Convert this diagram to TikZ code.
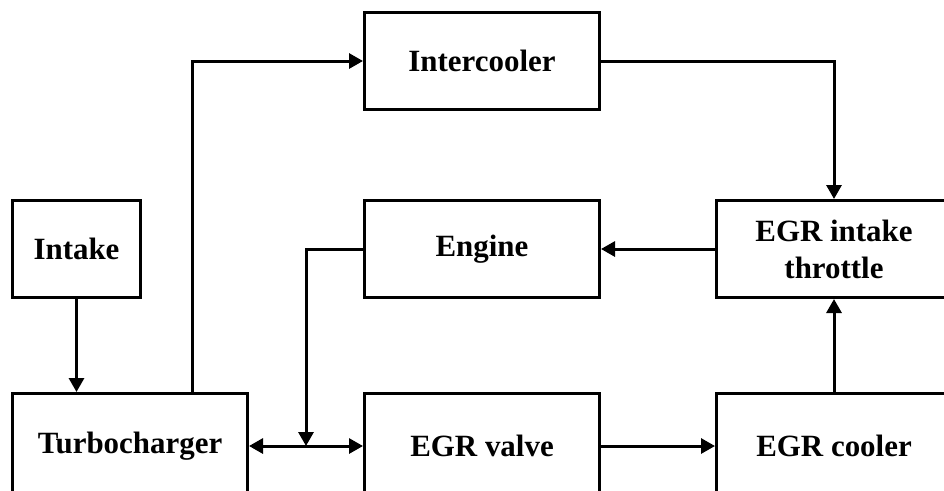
\documentclass[tikz,border=0pt]{standalone}
\usepackage{fontspec}
\setmainfont{Liberation Serif}
\usepackage{tikz}
\usetikzlibrary{arrows.meta, positioning, calc}

\begin{document}
\begin{tikzpicture}[
    node distance=1.86cm and 2.28cm,
    line width=0.06cm,
    box/.style={
      draw, minimum width=4.7cm, minimum height=1.94cm, inner sep=2pt,
      font=\bfseries\fontsize{17.6}{21.1}\selectfont, align=center
    },
    lowbox/.style={box, minimum height=2.1cm},
    arr/.style={-{Triangle[length=0.28cm, width=0.3cm]}},
    darr/.style={{Triangle[length=0.28cm, width=0.3cm]}-{Triangle[length=0.28cm, width=0.3cm]}},
  ]
    \useasboundingbox (0,0) rectangle (18.88,-9.8);
    \clip (0,0) rectangle (18.88,-9.8);

    % --- Bottom row ---
    \node[lowbox] (turbo) at (2.6,-8.92) {Turbocharger};
    \node[lowbox, right=of turbo] (valve)   {EGR valve};
    \node[lowbox, right=of valve] (egrcool) {EGR cooler};

    % --- Middle row ---
    \node[box, minimum width=2.56cm, above right=1.86cm and 0cm of turbo.north west] (intake) {Intake};
    \node[box, above=of valve]  (engine)   {Engine};
    \node[box, right=of engine] (throttle) {EGR intake\\throttle};

    % --- Top row ---
    \node[box, above=1.76cm of engine] (cooler) {Intercooler};

    \coordinate (junc) at ($(turbo.east)!0.5!(valve.west)$);

    % --- Arrows ---
    \draw[arr]  (intake) -- (intake |- turbo.north);
    \draw[arr]  ([xshift=1.24cm]turbo.north) |- (cooler);
    \draw[arr]  (cooler) -| (throttle);
    \draw[arr]  (throttle) -- (engine);
    \draw[arr]  (engine) -| (junc);
    \draw[darr] (turbo) -- (valve);
    \draw[arr]  (valve) -- (egrcool);
    \draw[arr]  (egrcool) -- (throttle);
\end{tikzpicture}
\end{document}
